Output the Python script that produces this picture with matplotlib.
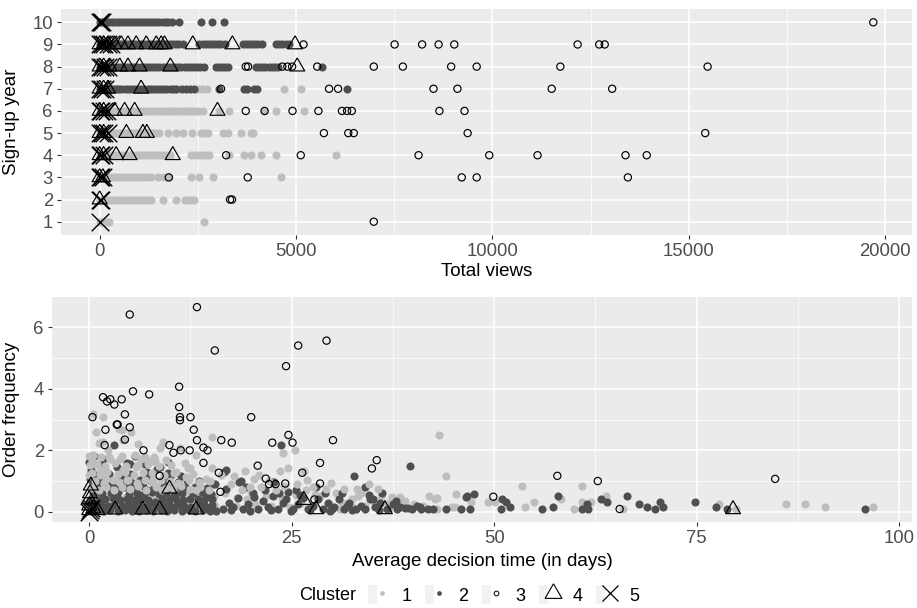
import matplotlib
matplotlib.use("Agg")
import matplotlib.pyplot as plt
from matplotlib.lines import Line2D
from matplotlib.patches import Rectangle
from matplotlib.legend_handler import HandlerTuple
from matplotlib.ticker import MultipleLocator

plt.rcParams['font.family'] = ['Liberation Sans', 'DejaVu Sans']

# ---------------- Data: top panel (Total views by sign-up year) ----------------
years = [1, 2, 3, 4, 5, 6, 7, 8, 9, 10]

views_c1 = {
    1: [0, 60, 120, 180, 250, 2650],
    2: [0, 70, 140, 210, 290, 370, 450, 530, 610, 690, 770, 850, 930, 1010, 1090, 1170, 1250, 1310,
        1610, 1950, 2160, 2250, 2330, 2410],
    3: [0, 70, 140, 210, 290, 370, 450, 530, 610, 690, 770, 850, 930, 1000, 1100, 1200, 1310, 1480,
        1650, 1760, 2330, 2540, 2890, 4620],
    4: [0, 70, 140, 220, 300, 380, 460, 540, 620, 700, 780, 860, 940, 1020, 1100, 1180, 1260, 1340,
        1420, 1500, 1580, 1660, 1780, 2330, 2420, 2520, 2620, 2720, 2790, 3300, 3680, 3860, 4110,
        4490, 6010],
    5: [0, 70, 140, 210, 290, 370, 450, 530, 610, 690, 770, 850, 930, 1010, 1090, 1170, 1250, 1330,
        1400, 1520, 1735, 1945, 2130, 2350, 2580, 2665, 2750, 3130, 3260, 3600, 3850, 3915],
    6: [0, 70, 140, 220, 300, 380, 460, 540, 620, 700, 780, 860, 940, 1020, 1100, 1180, 1260, 1340,
        1420, 1500, 1580, 1660, 1740, 1820, 1900, 1980, 2060, 2140, 2220, 2300, 2380, 2460, 2540,
        2620, 3050, 3300, 4190, 4490, 5200],
    7: [380, 460, 520, 1250, 1900, 2030, 2500, 2600, 2740, 4700, 5120],
}

views_c2 = {
    7: [0, 70, 140, 210, 280, 350, 420, 500, 580, 660, 740, 820, 900, 980, 1060, 1140, 1220, 1300,
        1380, 1460, 1540, 1620, 1700, 1780, 1860, 1940, 2100, 2200, 2300, 2400, 3050, 3680, 3760,
        3920, 4010, 6300],
    8: [0, 80, 160, 240, 320, 400, 480, 560, 640, 720, 800, 880, 960, 1040, 1120, 1200, 1280, 1360,
        1440, 1520, 1600, 1680, 1760, 1840, 1920, 2000, 2080, 2160, 2240, 2320, 2400, 2480, 2560,
        2650, 2960, 3040, 3120, 3200, 3260, 3980, 4060, 4140, 4220, 4300, 4380, 4460, 4540, 5660],
    9: [0, 75, 150, 225, 300, 375, 450, 525, 600, 675, 750, 825, 900, 975, 1050, 1125, 1200, 1275,
        1350, 1425, 1500, 1575, 1650, 1725, 1800, 1875, 1950, 2025, 2110, 2540, 2620, 2700, 2780,
        2860, 2940, 3020, 3100, 3200, 3640, 3720, 3800, 3880, 3960, 4040, 4140, 4485, 4570, 4650,
        4740, 4820],
    10: [0, 60, 120, 190, 250, 320, 390, 460, 530, 600, 680, 750, 820, 900, 970, 1050, 1120, 1200,
         1280, 1360, 1440, 1520, 1600, 1680, 1750, 1830, 2030, 2580, 2870, 3170],
}

views_c3 = {
    1: [6980],
    2: [3320, 3370],
    3: [1760, 3770, 9220, 9600, 13450],
    4: [3220, 5120, 8120, 9920, 11150, 13390, 13930],
    5: [5710, 6330, 6470, 9370, 15420],
    6: [3720, 4200, 4910, 5570, 6170, 6300, 6420, 8650, 9290],
    7: [3090, 5840, 6070, 8500, 9110, 11510, 13050],
    8: [3720, 3780, 4650, 4780, 4900, 5540, 6980, 7720, 8950, 9600, 11730, 15480],
    9: [5190, 7510, 8210, 8630, 9030, 12170, 12720, 12860],
    10: [19700],
}

views_c4 = {
    2: [0],
    3: [0, 80],
    4: [0, 100, 420, 760, 1860],
    5: [0, 100, 680, 1100, 1200],
    6: [0, 100, 380, 635, 890, 3000],
    7: [0, 100, 210, 1055],
    8: [0, 100, 250, 510, 720, 1015, 1800, 5030],
    9: [0, 100, 210, 380, 550, 720, 930, 1185, 1440, 1565, 1650, 2370, 3380, 4975],
}

views_c5 = {
    1: [0],
    2: [0, 40],
    3: [0, 30, 80],
    4: [0, 40, 110],
    5: [0, 50, 120, 200],
    6: [0, 40, 110, 180],
    7: [0, 50, 130],
    8: [0, 60, 140, 220],
    9: [0, 50, 120, 200, 280],
    10: [0, 30, 60],
}

# ---------------- Data: bottom panel (decision time vs order frequency) ----------------
points_c1 = [
    (43.2, 2.49), (44.0, 1.17), (45.3, 0.57), (45.2, 0.16), (47.1, 0.32), (49.2, 0.32), (50.1, 0.32),
    (53.5, 0.83), (53.8, 0.16), (54.9, 0.32), (58.2, 0.41), (59.9, 0.09), (60.8, 0.83), (60.8, 0.32),
    (61.9, 0.32), (63.8, 0.5), (65.9, 0.09), (77.8, 0.25), (79.9, 0.09), (86.1, 0.25), (88.4, 0.25),
    (90.8, 0.16), (96.8, 0.16), (43.0, 0.45),
    (37.4, 0.49), (38.6, 0.25), (40.1, 0.25), (42.7, 0.41), (31.0, 0.09), (33.1, 0.74), (32.5, 0.41),
    (42.9, 0.1), (23.9, 1.9), (25.4, 2.0), (19.2, 1.33), (23.5, 1.33), (24.6, 1.41), (26.5, 1.33),
    (31.5, 0.74), (38.4, 0.49), (29.2, 0.74), (19.8, 0.81), (34.5, 0.92), (27.6, 0.81), (44.8, 0.16),
    (16.3, 1.19), (20.4, 1.08), (25.7, 0.92), (33.5, 0.6),
    (16.8, 0.6), (17.5, 0.9), (18.1, 0.2), (18.9, 0.7), (19.5, 0.4), (20.5, 0.25), (21.2, 0.8),
    (21.8, 0.5), (22.5, 0.2), (23.1, 0.7), (23.8, 0.45), (24.8, 0.15), (25.5, 0.55), (26.1, 0.3),
    (26.8, 0.7), (27.3, 0.15), (28.5, 0.5), (29.8, 0.2), (30.5, 0.6), (31.2, 0.3), (32.4, 0.15),
    (33.2, 0.5), (34.0, 0.2), (35.0, 0.35), (36.0, 0.5), (37.0, 0.1), (39.0, 0.35), (41.2, 0.2),
    (42.0, 0.5), (17.9, 1.15), (21.0, 1.2), (22.2, 1.0), (26.9, 1.05), (29.9, 0.95), (18.3, 0.45),
    (20.0, 0.65), (24.0, 0.85), (27.9, 0.55), (35.6, 0.75), (36.9, 0.3),
    (4.0, 2.65), (4.2, 2.33), (1.7, 2.27), (0.5, 1.84), (2.5, 1.79), (3.8, 1.73), (5.6, 1.84),
    (6.9, 1.79), (9.1, 2.27), (8.7, 2.06), (11.2, 2.06), (12.4, 1.41), (13.2, 1.84), (8.1, 1.68),
    (6.0, 1.52), (0.1, 1.52), (0.0, 1.19), (1.3, 1.35), (4.2, 1.35), (10.1, 1.52), (10.7, 1.3),
    (15.1, 1.41), (14.4, 1.08), (2.1, 1.08), (4.6, 1.03), (7.9, 1.08), (12.0, 1.14), (0.5, 0.76),
    (5.8, 0.65), (9.5, 0.76), (13.2, 0.7), (2.5, 0.43), (7.5, 0.49), (11.2, 0.38), (1.3, 0.16),
    (5.2, 0.22), (9.1, 0.16), (13.0, 0.22), (15.3, 0.27),
    (15.1, 2.44), (7.1, 1.68), (0.5, 3.17), (1.7, 3.08), (3.7, 2.71), (5.2, 2.6), (0.0, 1.82),
    (7.9, 1.66), (9.1, 2.24), (12.2, 1.41), (0.8, 2.6), (2.3, 2.0), (1.2, 2.25), (6.0, 2.2),
    (1.1, 0.25), (3.0, 0.28), (4.7, 0.3), (6.7, 0.22), (8.5, 0.27), (10.3, 0.25), (12.0, 0.3),
    (13.8, 0.2), (15.5, 0.18),
    (0.6, 0.5), (1.4, 0.58), (2.5, 0.45), (3.4, 0.55), (4.5, 0.48), (5.3, 0.6), (6.2, 0.44),
    (7.1, 0.57), (8.0, 0.5), (8.9, 0.62), (9.8, 0.46), (10.6, 0.55), (11.5, 0.5), (12.4, 0.6),
    (13.3, 0.45), (14.2, 0.55), (15.4, 0.5),
    (0.2, 0.78), (1.2, 0.72), (2.1, 0.8), (3.1, 0.7), (4.0, 0.82), (5.0, 0.75), (6.0, 0.85),
    (7.0, 0.72), (8.3, 0.8), (9.0, 0.7), (10.4, 0.78), (11.3, 0.85), (12.5, 0.73), (13.7, 0.8),
    (14.8, 0.7),
    (0.7, 1.0), (1.8, 0.95), (2.9, 1.05), (3.7, 0.98), (4.8, 1.05), (5.9, 0.95), (6.9, 1.02),
    (7.8, 0.96), (8.8, 1.05), (10.0, 1.0), (11.0, 0.95), (12.3, 1.02), (13.5, 0.98), (14.9, 1.0),
    (0.3, 1.25), (1.3, 1.2), (2.2, 1.3), (3.5, 1.22), (4.4, 1.28), (5.5, 1.2), (6.6, 1.3),
    (7.7, 1.25), (9.2, 1.2), (10.5, 1.27), (12.8, 1.22),
    (1.0, 1.55), (2.0, 1.5), (3.2, 1.58), (4.5, 1.5), (5.8, 1.45), (7.2, 1.55), (8.6, 1.5),
    (11.8, 1.6), (0.4, 1.7), (1.5, 1.78), (2.6, 1.72), (4.1, 1.8), (6.4, 1.72), (8.0, 1.78),
    (9.5, 1.7),
]

points_c2 = [
    (45.9, 0.09), (47.0, 0.09), (46.6, 0.5), (47.5, 0.57), (50.9, 0.09), (51.0, 0.41), (51.5, 0.32),
    (51.9, 0.16), (55.9, 0.09), (57.3, 0.16), (57.9, 0.5), (60.8, 0.09), (61.5, 0.25), (61.6, 0.09),
    (63.2, 0.41), (63.9, 0.32), (66.4, 0.5), (67.9, 0.25), (68.9, 0.16), (69.9, 0.09), (70.5, 0.32),
    (70.9, 0.16), (74.8, 0.32), (77.4, 0.16), (78.8, 0.09), (95.8, 0.09),
    (32.7, 1.17), (39.6, 1.5), (34.1, 0.81), (35.1, 0.41), (36.2, 0.6), (31.8, 0.2), (34.0, 0.1),
    (38.4, 0.15), (39.9, 0.1), (41.0, 0.1), (42.4, 0.1), (31.2, 0.6), (30.0, 0.1), (39.0, 0.12),
    (23.7, 2.17), (18.7, 1.0), (20.4, 0.49), (24.3, 0.43), (22.6, 0.97), (28.0, 0.81), (30.8, 0.43),
    (34.7, 0.43), (39.4, 0.11), (40.9, 0.16), (46.5, 0.49), (16.7, 1.3), (18.5, 0.97), (22.8, 0.97),
    (25.5, 0.7), (16.9, 1.35), (15.3, 0.92),
    (16.5, 0.1), (17.2, 0.3), (17.8, 0.15), (18.4, 0.45), (19.0, 0.1), (19.6, 0.25), (20.2, 0.6),
    (20.9, 0.1), (21.5, 0.35), (22.1, 0.15), (22.7, 0.5), (23.3, 0.1), (23.9, 0.3), (24.5, 0.65),
    (25.1, 0.1), (25.8, 0.25), (26.4, 0.45), (27.0, 0.1), (27.6, 0.2), (28.2, 0.4), (28.9, 0.1),
    (29.5, 0.3), (30.2, 0.15), (31.5, 0.1), (32.1, 0.3), (33.0, 0.1), (33.6, 0.2), (34.5, 0.55),
    (35.3, 0.15), (35.9, 0.3), (36.8, 0.1), (37.5, 0.25), (38.0, 0.1), (40.5, 0.2), (41.8, 0.1),
    (44.0, 0.1), (16.9, 0.75), (19.3, 0.8), (21.7, 0.7), (23.4, 0.6), (26.0, 0.55), (29.1, 0.6),
    (17.5, 0.05), (19.9, 0.04), (22.4, 0.05), (24.9, 0.03), (27.3, 0.05), (29.7, 0.04),
    (32.4, 0.05), (35.8, 0.05), (37.9, 0.35),
    (0.5, 1.79), (3.0, 2.17), (0.0, 1.62), (1.7, 1.73), (5.0, 1.57), (7.1, 1.3), (9.7, 1.62),
    (0.1, 1.08), (3.8, 1.19), (8.3, 0.81), (10.1, 1.19), (11.2, 0.81), (13.6, 0.87), (15.5, 0.92),
    (1.3, 0.65), (3.4, 0.49), (6.2, 0.38), (8.1, 0.32), (10.3, 0.49), (12.4, 0.43), (14.4, 0.49),
    (0.0, 0.32), (2.1, 0.11), (4.2, 0.11), (7.1, 0.11), (9.9, 0.11), (12.0, 0.11), (14.6, 0.11),
    (5.0, 0.81), (9.3, 0.92), (7.1, 0.7), (12.8, 0.6), (0.6, 1.82), (5.6, 1.82), (8.7, 1.46),
    (0.3, 0.04), (1.0, 0.06), (1.8, 0.03), (2.6, 0.05), (3.5, 0.02), (4.4, 0.06), (5.3, 0.04),
    (6.1, 0.03), (7.0, 0.05), (7.9, 0.02), (8.8, 0.06), (9.6, 0.03), (10.5, 0.05), (11.4, 0.02),
    (12.3, 0.06), (13.1, 0.03), (14.0, 0.05), (14.9, 0.02), (15.7, 0.04),
    (0.7, 0.2), (1.5, 0.24), (2.3, 0.18), (3.1, 0.22), (4.0, 0.19), (4.8, 0.23), (5.7, 0.2),
    (6.5, 0.17), (7.4, 0.24), (8.2, 0.2), (9.1, 0.22), (10.0, 0.18), (10.8, 0.23), (11.7, 0.2),
    (12.6, 0.17), (13.5, 0.24), (14.3, 0.2), (15.2, 0.22),
    (0.2, 0.42), (1.2, 0.38), (2.0, 0.4), (2.9, 0.44), (3.8, 0.37), (4.6, 0.41), (5.5, 0.39),
    (6.4, 0.43), (7.2, 0.38), (9.0, 0.4), (9.9, 0.37), (10.7, 0.42), (11.6, 0.39), (13.4, 0.41),
    (14.2, 0.38), (15.1, 0.43),
    (0.5, 0.58), (1.6, 0.62), (2.7, 0.6), (3.6, 0.64), (4.9, 0.57), (5.9, 0.61), (6.8, 0.58),
    (7.7, 0.63), (8.6, 0.59), (9.5, 0.62), (10.6, 0.57), (11.5, 0.6), (13.9, 0.63), (15.0, 0.58),
    (0.9, 0.8), (2.2, 0.84), (3.3, 0.78), (4.3, 0.82), (5.4, 0.77), (6.6, 0.83), (8.0, 0.79),
    (9.2, 0.84), (10.2, 0.77), (11.8, 0.82), (13.0, 0.8), (14.5, 0.78),
    (0.4, 1.0), (1.4, 1.04), (2.8, 0.97), (4.1, 1.02), (5.2, 0.98), (6.3, 1.03), (7.6, 0.99),
    (9.4, 1.02), (10.9, 0.97), (12.1, 1.03), (13.6, 1.0),
    (0.8, 1.2), (2.4, 1.24), (3.9, 1.18), (5.0, 1.22), (7.3, 1.2), (9.7, 1.25), (11.3, 1.18),
    (0.2, 1.35), (1.7, 1.5), (3.4, 1.45), (4.7, 1.6), (6.9, 1.55), (8.4, 1.4),
]

points_c3 = [
    (0.4, 3.08), (5.0, 6.42), (13.3, 6.66), (15.5, 5.25), (25.8, 5.41), (29.3, 5.57), (24.3, 4.74),
    (1.7, 3.73), (2.2, 3.59), (2.6, 3.66), (3.1, 3.49), (4.0, 3.66), (5.4, 3.92), (7.4, 3.82),
    (11.1, 4.07), (11.1, 3.41), (11.2, 3.08), (11.2, 2.98), (12.5, 3.08), (4.4, 3.17), (3.4, 2.84),
    (3.5, 2.84), (5.0, 2.75), (2.0, 2.67), (12.9, 2.67), (4.4, 2.35), (1.9, 2.17), (9.9, 2.17),
    (11.3, 2.0), (12.4, 2.0), (6.7, 2.0), (10.4, 1.92), (13.3, 2.33), (14.1, 2.09), (14.6, 2.0),
    (16.3, 2.33), (17.6, 2.25), (20.0, 3.08), (22.6, 2.25), (24.6, 2.5), (25.1, 2.25), (30.1, 2.33),
    (14.1, 1.59), (16.0, 1.27), (16.2, 0.65), (20.8, 1.5), (21.8, 1.08), (22.2, 0.9), (23.0, 0.9),
    (24.2, 0.92), (26.3, 1.27), (28.5, 1.59), (28.5, 0.92), (27.8, 0.4), (34.9, 1.41), (35.5, 1.68),
    (8.7, 1.17), (57.8, 1.17), (62.8, 1.0), (84.7, 1.07), (49.9, 0.49), (65.5, 0.09),
]

points_c4 = [
    (0.0, 0.05), (0.0, 0.2), (0.0, 0.4), (0.1, 0.6), (0.2, 0.85), (0.5, 0.1), (1.0, 0.05),
    (3.2, 0.07), (6.6, 0.07), (8.7, 0.07), (9.9, 0.75), (13.2, 0.07), (26.5, 0.38), (28.0, 0.08),
    (36.5, 0.08), (79.5, 0.08),
]

points_c5 = [(0.0, 0.0), (0.1, 0.05), (0.2, 0.12)]

cluster_labels = ['1', '2', '3', '4', '5']

# ---------------- Style ----------------
LIGHT = '#BEBEBE'
DARK = '#4F4F4F'
PANEL = '#EBEBEB'
TICKTXT = '#4D4D4D'
TRI = [(0.0, 1.0), (-0.866, -0.5), (0.866, -0.5), (0.0, 1.0)]
DOT_S = 34
CIRC_S = 27

W, H = 917, 608
fig = plt.figure(figsize=(W / 100, H / 100), dpi=100)


def px_axes(left, top, right, bottom):
    return fig.add_axes([left / W, 1 - bottom / H, (right - left) / W, (bottom - top) / H])


def style(ax):
    ax.set_facecolor(PANEL)
    for s in ax.spines.values():
        s.set_visible(False)
    ax.grid(which='major', color='white', linewidth=1.1)
    ax.grid(which='minor', color='white', linewidth=0.55)
    ax.set_axisbelow(True)
    ax.tick_params(which='major', length=2.9, width=0.8, color='#333333', labelsize=13.3,
                   labelcolor=TICKTXT)
    ax.tick_params(axis='x', which='major', pad=3)
    ax.tick_params(axis='y', which='major', pad=3)
    ax.tick_params(which='minor', length=0)


def flatten(d):
    xs, ys = [], []
    for yr, vals in d.items():
        for v in vals:
            xs.append(v)
            ys.append(yr)
    return xs, ys


def split(pts):
    return [p[0] for p in pts], [p[1] for p in pts]


def draw_rest(ax, c3, c4, c5):
    ax.scatter(c3[0], c3[1], s=CIRC_S, facecolors='none', edgecolors='black', linewidths=0.85,
               zorder=3)
    ax.scatter(c4[0], c4[1], s=156, marker=TRI, facecolors='none', edgecolors='black',
               linewidths=0.85, zorder=4)
    ax.scatter(c5[0], c5[1], s=160, marker='x', c='black', linewidths=1.0, zorder=5)


# ---------------- Top panel ----------------
ax1 = px_axes(61, 9, 912, 235)
style(ax1)
x, y = flatten(views_c1)
ax1.scatter(x, y, s=DOT_S, c=LIGHT, linewidths=0, zorder=2.1)
x, y = flatten(views_c2)
ax1.scatter(x, y, s=DOT_S, c=DARK, linewidths=0, zorder=2.2)
draw_rest(ax1, flatten(views_c3), flatten(views_c4), flatten(views_c5))
ax1.set_xlim(-985, 20685)
ax1.set_ylim(0.4, 10.6)
ax1.set_yticks(years)
ax1.set_yticklabels([str(v) for v in years])
ax1.xaxis.set_major_locator(MultipleLocator(5000))
ax1.xaxis.set_minor_locator(MultipleLocator(2500))
ax1.set_xlabel('Total views', fontsize=13.5, color='black')
ax1.set_ylabel('Sign-up year', fontsize=13.5, color='black')
ax1.xaxis.set_label_coords(0.5, -0.125)
ax1.yaxis.set_label_coords(-0.048, 0.5)

# ---------------- Bottom panel ----------------
ax2 = px_axes(52, 297, 912, 522)
style(ax2)
# light points in the low band sit under the dark ones, the upper ones on top (mixed look)
low = [p for p in points_c1 if p[1] <= 0.65]
high = [p for p in points_c1 if p[1] > 0.65]
x, y = split(low)
ax2.scatter(x, y, s=DOT_S, c=LIGHT, linewidths=0, zorder=2.1)
x, y = split(points_c2)
ax2.scatter(x, y, s=DOT_S, c=DARK, linewidths=0, zorder=2.2)
x, y = split(high)
ax2.scatter(x, y, s=DOT_S, c=LIGHT, linewidths=0, zorder=2.3)
draw_rest(ax2, split(points_c3), split(points_c4), split(points_c5))
ax2.set_xlim(-4.6, 101.6)
ax2.set_ylim(-0.333, 6.99)
ax2.xaxis.set_major_locator(MultipleLocator(25))
ax2.xaxis.set_minor_locator(MultipleLocator(12.5))
ax2.yaxis.set_major_locator(MultipleLocator(2))
ax2.yaxis.set_minor_locator(MultipleLocator(1))
ax2.set_xlabel('Average decision time (in days)', fontsize=13.5, color='black')
ax2.set_ylabel('Order frequency', fontsize=13.5, color='black')
ax2.xaxis.set_label_coords(0.5, -0.14)
ax2.yaxis.set_label_coords(-0.037, 0.5)

# ---------------- Legend ----------------
key_bg = dict(facecolor='#F2F2F2', edgecolor='none')
handles = [
    (Rectangle((0, 0), 1, 1, **key_bg),
     Line2D([], [], linestyle='none', marker='o', markersize=3.4, markerfacecolor=LIGHT,
            markeredgewidth=0)),
    (Rectangle((0, 0), 1, 1, **key_bg),
     Line2D([], [], linestyle='none', marker='o', markersize=3.4, markerfacecolor=DARK,
            markeredgewidth=0)),
    (Rectangle((0, 0), 1, 1, **key_bg),
     Line2D([], [], linestyle='none', marker='o', markersize=3.4, markerfacecolor='none',
            markeredgecolor='black', markeredgewidth=0.7)),
    (Rectangle((0, 0), 1, 1, **key_bg),
     Line2D([], [], linestyle='none', marker=TRI, markersize=14, markerfacecolor='none',
            markeredgecolor='black', markeredgewidth=0.8)),
    (Rectangle((0, 0), 1, 1, **key_bg),
     Line2D([], [], linestyle='none', marker='x', markersize=11.5, color='black',
            markeredgewidth=0.9)),
]
fig.text(299 / W, 1 - 595 / H, 'Cluster', fontsize=13, va='center', ha='left')
leg = fig.legend(handles, cluster_labels, loc='center left', bbox_to_anchor=(368 / W, 1 - 595 / H),
                 ncol=5, frameon=False, fontsize=13, handlelength=1.05, handleheight=1.2,
                 handletextpad=0.8, columnspacing=0.75, borderpad=0, borderaxespad=0,
                 handler_map={tuple: HandlerTuple(ndivide=None, pad=0)})

fig.savefig('out.png', dpi=100)
